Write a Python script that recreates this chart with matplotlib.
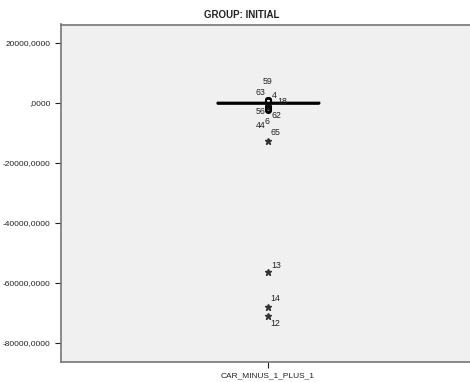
import matplotlib
matplotlib.use("Agg")
import matplotlib.pyplot as plt
from matplotlib.ticker import FuncFormatter

plt.rcParams['font.family'] = ['Liberation Sans', 'DejaVu Sans']

# ---- data ----
variable = "CAR_MINUS_1_PLUS_1"
group_title = "GROUP: INITIAL"
q1, median, q3 = -100.0, 0.0, 100.0
whisker_low, whisker_high = -300.0, 200.0
outlier_ids = ["59", "63", "4", "18", "56", "62", "44", "6"]
outlier_vals = [900.0, 700.0, 500.0, 400.0, -1300.0, -1800.0, -2500.0, -2200.0]
extreme_ids = ["65", "13", "14", "12"]
extreme_vals = [-12700.0, -56500.0, -68200.0, -71000.0]
yticks = [20000, 0, -20000, -40000, -60000, -80000]

# label offsets (pixels) relative to each point
outlier_offsets = [(0, 18), (-8, 8), (6, 6), (14, 0), (-7, -5), (8, -8), (-7, -15), (-1, -12)]
extreme_offsets = [(7, 8), (8, 7), (7, 9), (7, -8)]

fig = plt.figure(figsize=(4.70, 3.82), dpi=100)
ax = fig.add_axes([61/470, 1 - 361.5/382, 1 - 61/470, (361.5 - 24.5)/382])
ax.set_facecolor('#f0f0f0')

stats = [dict(med=median, q1=q1, q3=q3, whislo=whisker_low, whishi=whisker_high,
              fliers=[], label=variable)]
ax.bxp(stats, positions=[1], widths=0.49, capwidths=[0.49], showfliers=False,
       boxprops=dict(color='black', linewidth=1.0),
       medianprops=dict(color='black', linewidth=1.8),
       whiskerprops=dict(color='black', linewidth=1.0),
       capprops=dict(color='black', linewidth=1.0))

ax.plot([1]*len(outlier_vals), outlier_vals, linestyle='none', marker='o',
        markersize=4, markerfacecolor='none', markeredgecolor='black', markeredgewidth=1.1)
ax.plot([1]*len(extreme_vals), extreme_vals, linestyle='none', marker='*',
        markersize=4.5, color='#333333')

for lab, v, off in zip(outlier_ids, outlier_vals, outlier_offsets):
    ax.annotate(lab, (1, v), xytext=off, textcoords='offset pixels',
                ha='center', va='center', fontsize=6.3, color='#222222')
for lab, v, off in zip(extreme_ids, extreme_vals, extreme_offsets):
    ax.annotate(lab, (1, v), xytext=off, textcoords='offset pixels',
                ha='center', va='center', fontsize=6.3, color='#222222')

ax.set_xlim(0, 1.976)
ax.set_ylim(-86300, 26000)
ax.set_xticks([1])
ax.set_xticklabels([variable])
ax.set_yticks(yticks)

def fmt(v, pos):
    if v == 0:
        return ",0000"
    return f"{int(v)},0000"
ax.yaxis.set_major_formatter(FuncFormatter(fmt))
ax.tick_params(axis='both', labelsize=6, colors='#222222', length=4, width=0.8)

for s in ['left', 'top', 'bottom']:
    ax.spines[s].set_color('#777777')
    ax.spines[s].set_linewidth(1.2)
ax.spines['right'].set_visible(False)

fig.text(242/470, 1 - 15/382, group_title, ha='center', va='center',
         fontsize=7, fontweight='bold', color='#222222')

fig.savefig("out.png", dpi=100)
